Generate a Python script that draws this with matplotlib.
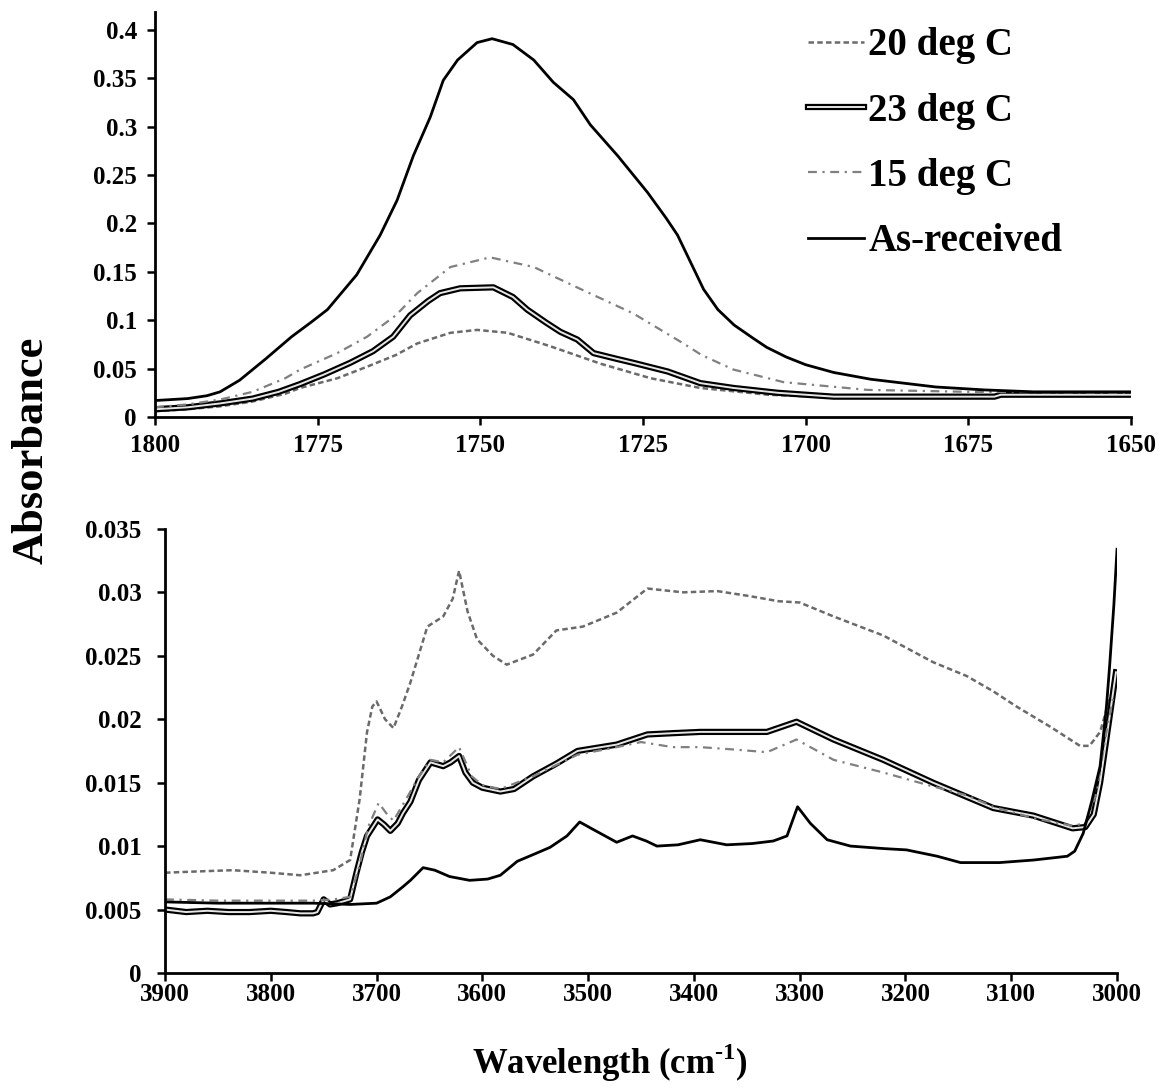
import matplotlib
matplotlib.use('Agg')
import matplotlib.pyplot as plt
import matplotlib.patheffects as pe
from matplotlib.ticker import FuncFormatter, MultipleLocator

# ---- top panel (C=O region) ----
wl_20_top = [1800, 1795, 1790, 1785, 1780, 1777.7, 1772, 1767.4, 1763, 1759.7, 1754.6, 1750.5,
             1745.8, 1739.2, 1731.5, 1723.8, 1716.2, 1705.8, 1695, 1680, 1672, 1665, 1650]
ab_20_top = [0.006, 0.008, 0.011, 0.016, 0.024, 0.030, 0.040, 0.052, 0.064, 0.076, 0.087, 0.090,
             0.087, 0.073, 0.055, 0.040, 0.030, 0.023, 0.020, 0.020, 0.021, 0.023, 0.023]

wl_23_top = [1800, 1795, 1790, 1785, 1781, 1777.7, 1774, 1770, 1766.5, 1763.4, 1760.8, 1758, 1756.2,
             1753.1, 1748, 1745, 1742.8, 1740, 1737.7, 1735.1, 1732.6, 1729, 1726.5, 1721.2, 1716.2,
             1711.1, 1704.3, 1695.7, 1680, 1671, 1670, 1650]
ab_23_top = [0.008, 0.010, 0.014, 0.019, 0.026, 0.034, 0.044, 0.056, 0.068, 0.083, 0.105, 0.120, 0.128,
             0.133, 0.134, 0.124, 0.111, 0.098, 0.088, 0.080, 0.066, 0.060, 0.056, 0.047, 0.035,
             0.030, 0.025, 0.021, 0.021, 0.021, 0.023, 0.023]

wl_15_top = [1800, 1795, 1790, 1785, 1780, 1777.7, 1772, 1767.4, 1763, 1759.7, 1754.6, 1748.5, 1741.8,
             1734.2, 1726.5, 1718.8, 1716, 1711.1, 1703.4, 1690.5, 1675, 1650]
ab_15_top = [0.010, 0.013, 0.018, 0.026, 0.040, 0.049, 0.066, 0.083, 0.105, 0.128, 0.155, 0.165, 0.155,
             0.131, 0.107, 0.076, 0.064, 0.049, 0.036, 0.028, 0.026, 0.025]

wl_ar_top = [1800, 1795, 1792, 1790, 1787, 1783, 1779, 1776, 1773.5, 1769, 1765.4, 1762.8, 1760.3,
             1757.7, 1755.7, 1753.5, 1750.5, 1748.2, 1745, 1741.8, 1738.8, 1735.7, 1733.1, 1728.9,
             1724.3, 1721.5, 1719.7, 1717.7, 1715.7, 1713.5, 1711, 1708, 1706, 1703, 1700, 1695.7,
             1690, 1685, 1680, 1672.6, 1665, 1650]
ab_ar_top = [0.017, 0.019, 0.022, 0.026, 0.038, 0.060, 0.083, 0.098, 0.111, 0.147, 0.188, 0.224, 0.270,
             0.310, 0.348, 0.369, 0.387, 0.391, 0.385, 0.369, 0.346, 0.328, 0.302, 0.270,
             0.232, 0.206, 0.188, 0.160, 0.132, 0.111, 0.095, 0.081, 0.072, 0.062, 0.054, 0.046,
             0.039, 0.035, 0.031, 0.028, 0.026, 0.026]

# ---- bottom panel (O-H region) ----
wl_20_bot = [3900, 3870, 3836, 3800, 3772, 3741, 3725, 3716, 3709, 3704, 3700, 3692, 3684, 3676, 3668,
             3652, 3637, 3628, 3622, 3614, 3605, 3590, 3577, 3552, 3530, 3505, 3473, 3444, 3410, 3378,
             3347, 3320, 3300, 3268, 3221, 3174, 3142, 3117, 3095, 3063, 3035, 3026, 3016, 3007, 3000]
ab_20_bot = [0.0079, 0.0080, 0.0081, 0.0079, 0.0077, 0.0081, 0.0089, 0.0137, 0.0190, 0.0210, 0.0214,
             0.0200, 0.0193, 0.0210, 0.0229, 0.0273, 0.0281, 0.0295, 0.0317, 0.0285, 0.0263, 0.0250,
             0.0243, 0.0251, 0.0270, 0.0273, 0.0284, 0.0303, 0.0300, 0.0301, 0.0297, 0.0293, 0.0292,
             0.0281, 0.0266, 0.0245, 0.0234, 0.0222, 0.0210, 0.0194, 0.0179, 0.0179, 0.0190, 0.0216, 0.0232]

wl_23_bot = [3900, 3880, 3860, 3840, 3820, 3800, 3785, 3772, 3760, 3756, 3750, 3744, 3737, 3725, 3719,
             3714, 3709, 3699, 3693, 3687, 3680, 3675, 3668, 3660, 3649, 3637, 3630, 3622, 3616, 3609,
             3600, 3583, 3570, 3552, 3530, 3510, 3473, 3444, 3420, 3394, 3347, 3331, 3303, 3268, 3221,
             3174, 3117, 3079, 3042, 3030, 3022, 3016, 3007, 3001]
ab_23_bot = [0.0050, 0.0048, 0.0049, 0.0048, 0.0048, 0.0049, 0.0048, 0.0047, 0.0047, 0.0048, 0.0058,
             0.0054, 0.0055, 0.0058, 0.0079, 0.0095, 0.0108, 0.0121, 0.0117, 0.0112, 0.0118, 0.0126,
             0.0135, 0.0152, 0.0166, 0.0163, 0.0166, 0.0171, 0.0158, 0.0150, 0.0146, 0.0143, 0.0145,
             0.0155, 0.0165, 0.0175, 0.0180, 0.0188, 0.0189, 0.0190, 0.0190, 0.0190, 0.0198, 0.0184,
             0.0168, 0.0150, 0.0130, 0.0124, 0.0114, 0.0115, 0.0125, 0.0150, 0.0202, 0.0237]

wl_15_bot = [3900, 3850, 3800, 3760, 3740, 3725, 3716, 3708, 3698, 3690, 3684, 3670, 3660, 3649, 3637,
             3622, 3610, 3600, 3583, 3552, 3510, 3473, 3450, 3420, 3394, 3360, 3331, 3303, 3268, 3221,
             3174, 3142, 3117, 3079, 3042, 3030, 3020, 3010, 3003]
ab_15_bot = [0.0058, 0.0057, 0.0057, 0.0057, 0.0058, 0.0060, 0.0085, 0.0115, 0.0134, 0.0125, 0.0120,
             0.0140, 0.0155, 0.0168, 0.0166, 0.0178, 0.0155, 0.0148, 0.0145, 0.0155, 0.0172, 0.0178,
             0.0182, 0.0178, 0.0178, 0.0176, 0.0174, 0.0184, 0.0168, 0.0158, 0.0147, 0.0140, 0.0131,
             0.0122, 0.0116, 0.0118, 0.0140, 0.0190, 0.0220]

wl_ar_bot = [3900, 3850, 3800, 3760, 3725, 3700, 3687, 3675, 3668, 3656, 3645, 3631, 3612, 3595, 3583,
             3567, 3550, 3536, 3520, 3508, 3495, 3473, 3458, 3445, 3435, 3415, 3394, 3369, 3345, 3325,
             3312, 3302, 3290, 3274, 3252, 3220, 3199, 3170, 3148, 3111, 3079, 3047, 3040, 3032, 3024,
             3016, 3010, 3007, 3003, 3000]
ab_ar_bot = [0.0056, 0.0055, 0.0055, 0.0055, 0.0054, 0.0055, 0.0060, 0.0068, 0.0073, 0.0083, 0.0081,
             0.0076, 0.0073, 0.0074, 0.0077, 0.0088, 0.0094, 0.0099, 0.0108, 0.0119, 0.0113, 0.0103,
             0.0108, 0.0104, 0.0100, 0.0101, 0.0105, 0.0101, 0.0102, 0.0104, 0.0108, 0.0131, 0.0118,
             0.0105, 0.0100, 0.0098, 0.0097, 0.0092, 0.0087, 0.0087, 0.0089, 0.0092, 0.0096, 0.0110,
             0.0135, 0.0163, 0.0210, 0.0242, 0.0290, 0.0334]

labels = ['20 deg C', '23 deg C', '15 deg C', 'As-received']

plt.rcParams['font.family'] = ['Liberation Serif', 'DejaVu Serif']
plt.rcParams['font.weight'] = 'bold'
plt.rcParams['mathtext.fontset'] = 'custom'
plt.rcParams['mathtext.rm'] = 'Liberation Serif:bold'
plt.rcParams['mathtext.bf'] = 'Liberation Serif:bold'

dbl = [pe.Stroke(linewidth=4.5, foreground='black'), pe.Normal()]
st_20 = dict(color='#6a6a6a', lw=1.8, ls=(0, (2.2, 1.3)))
st_23 = dict(color='#e6e6e6', lw=1.4, path_effects=dbl)
st_15 = dict(color='#808080', lw=1.6, ls=(0, (4, 2.5, 1, 2.5)))
st_ar = dict(color='black', lw=2.0)

fig = plt.figure(figsize=(11.62, 10.91), dpi=100)
ax1 = fig.add_axes([0.1334, 0.6178, 0.840, 0.3712])
ax2 = fig.add_axes([0.142, 0.1082, 0.8193, 0.407])

ax1.plot(wl_20_top, ab_20_top, label=labels[0], **st_20)
ax1.plot(wl_23_top, ab_23_top, label=labels[1], **st_23)
ax1.plot(wl_15_top, ab_15_top, label=labels[2], **st_15)
ax1.plot(wl_ar_top, ab_ar_top, label=labels[3], **st_ar)

ax2.plot(wl_20_bot, ab_20_bot, **st_20)
ax2.plot(wl_23_bot, ab_23_bot, **st_23)
ax2.plot(wl_15_bot, ab_15_bot, **st_15)
ax2.plot(wl_ar_bot, ab_ar_bot, **st_ar)

ax1.set_xlim(1800, 1650)
ax1.set_ylim(0, 0.4186)
ax1.xaxis.set_major_locator(MultipleLocator(25))
ax1.yaxis.set_major_locator(MultipleLocator(0.05))
ax2.set_xlim(3900, 3000)
ax2.set_ylim(0, 0.035)
ax2.xaxis.set_major_locator(MultipleLocator(100))
ax2.yaxis.set_major_locator(MultipleLocator(0.005))

fmt = FuncFormatter(lambda v, p: '%g' % round(v, 4))
for ax in (ax1, ax2):
    ax.yaxis.set_major_formatter(fmt)
    for s in ('top', 'right'):
        ax.spines[s].set_visible(False)
    for s in ('left', 'bottom'):
        ax.spines[s].set_linewidth(2)
    ax.tick_params(direction='out', length=6, width=1.8, labelsize=18)

ax1.tick_params(axis='y', pad=7)
ax1.tick_params(axis='x', pad=6)
ax2.tick_params(axis='y', pad=11)
ax2.tick_params(axis='x', pad=1)

ax1.legend(loc='upper left', bbox_to_anchor=(808 / 1162, 0.975), bbox_transform=fig.transFigure,
           frameon=False, fontsize=28, borderpad=0, borderaxespad=0, handlelength=1.45,
           handletextpad=0.1, labelspacing=0.73)

fig.text(0.027, 0.5875, 'Absorbance', rotation=90, fontsize=32, ha='center', va='center')
fig.text(0.525, 0.0257, 'Wavelength (cm$^{\\text{-1}}$)', fontsize=25, ha='center', va='center')

fig.savefig('out.png', dpi=100)
